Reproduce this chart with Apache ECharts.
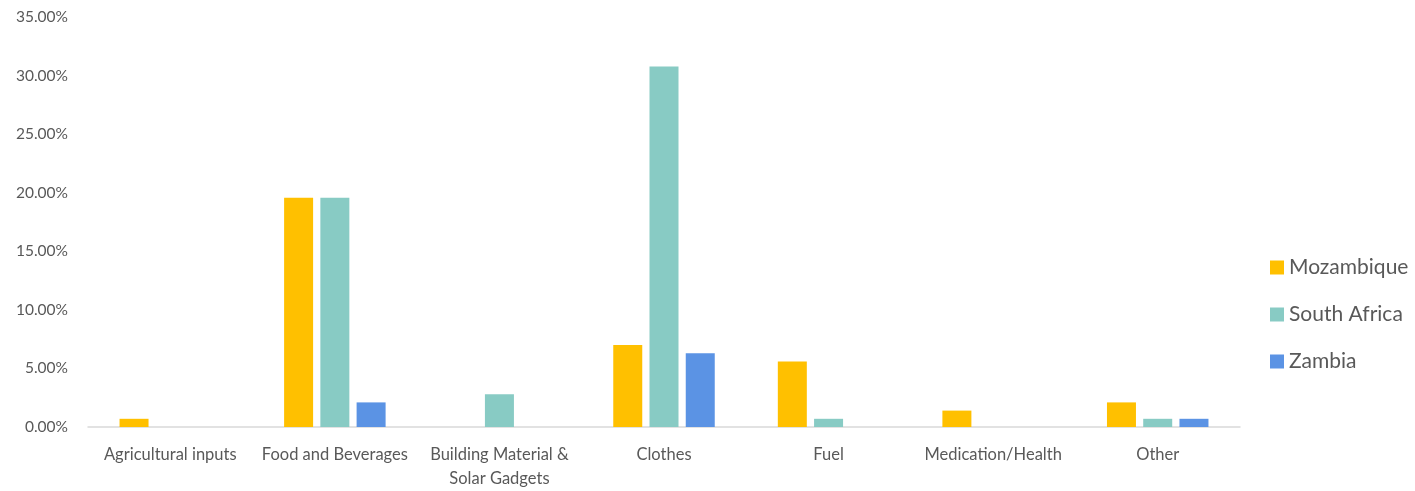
<!DOCTYPE html>
<html>
<head>
<meta charset="utf-8">
<script src="https://cdn.jsdelivr.net/npm/echarts@6/dist/echarts.min.js"></script>
<style>html,body{margin:0;padding:0;background:#fff;}#c{width:1415px;height:491px;}</style>
</head>
<body>
<div id="c"></div>
<script>
const categories = ['Agricultural inputs', 'Food and Beverages', 'Building Material &\nSolar Gadgets', 'Clothes', 'Fuel', 'Medication/Health', 'Other'];
const mozambique = [0.70, 19.58, null, 6.99, 5.59, 1.40, 2.10];
const southAfrica = [null, 19.58, 2.80, 30.77, 0.70, null, 0.70];
const zambia = [null, 2.10, null, 6.29, null, null, 0.70];
const yTicks = [0, 5, 10, 15, 20, 25, 30, 35];

const font = 'Lato, "Open Sans", sans-serif';
const chart = echarts.init(document.getElementById('c'));
const mk = (name, data, color) => ({
  name, type: 'bar', data, barWidth: 29, barGap: '25%',
  itemStyle: { color }
});
chart.setOption({
  animation: false,
  grid: { left: 88, right: 175, top: 17, bottom: 61 },
  legend: {
    orient: 'vertical', left: 1265, top: 252,
    itemWidth: 14, itemHeight: 14, itemGap: 26,
    icon: 'rect',
    textStyle: { fontFamily: font, fontSize: 21, color: '#595959', padding: [0, 0, 0, 0] },
    data: ['Mozambique', 'South Africa', 'Zambia']
  },
  xAxis: {
    type: 'category', data: categories,
    axisLine: { lineStyle: { color: '#d9d9d9', width: 1.5 } },
    axisTick: { show: false },
    axisLabel: { fontFamily: font, fontSize: 16.5, color: '#595959', margin: 16, lineHeight: 24, interval: 0 }
  },
  yAxis: {
    type: 'value', min: 0, max: 35, interval: 5,
    axisLine: { show: false }, axisTick: { show: false },
    splitLine: { show: false },
    axisLabel: { fontFamily: font, fontSize: 15.5, color: '#595959', margin: 20,
      formatter: v => yTicks.includes(v) ? v.toFixed(2) + '%' : '' }
  },
  series: [
    mk('Mozambique', mozambique, '#FFC000'),
    mk('South Africa', southAfrica, '#88CBC4'),
    mk('Zambia', zambia, '#5B93E4')
  ]
});
</script>
</body>
</html>
